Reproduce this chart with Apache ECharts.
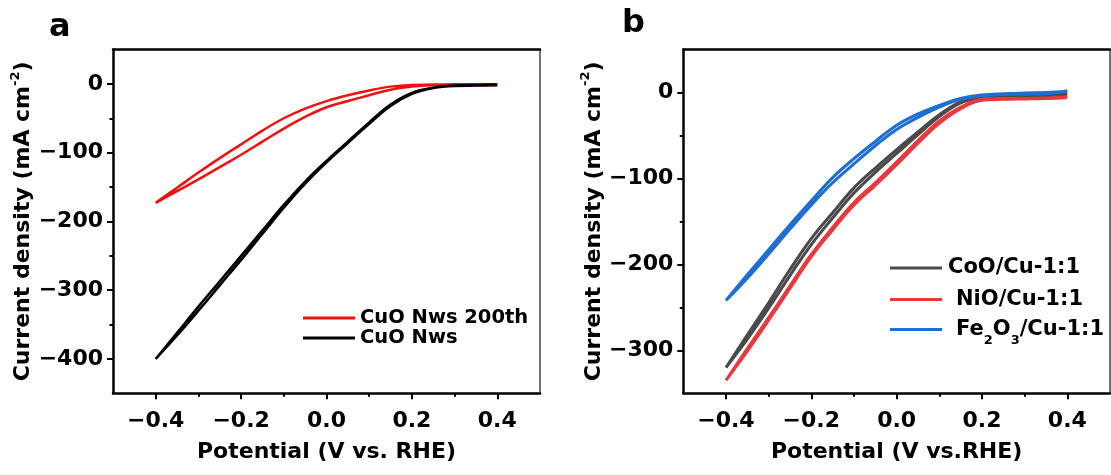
<!DOCTYPE html>
<html>
<head>
<meta charset="utf-8">
<script src="https://cdn.jsdelivr.net/npm/echarts@6/dist/echarts.min.js"></script>
<style>html,body{margin:0;padding:0;background:#fff}#c{width:1111px;height:475px}</style>
</head>
<body>
<div id="c"></div>
<script>
// ---------- Panel a data (potential V vs RHE, current density mA cm-2), one loop per series ----------
const cuo200V = [0.40, 0.35, 0.30, 0.25, 0.20, 0.15, 0.10, 0.05, 0.00, -0.05, -0.10, -0.15, -0.20, -0.25, -0.30, -0.35, -0.40,
                 -0.35, -0.30, -0.25, -0.20, -0.15, -0.10, -0.05, 0.00, 0.05, 0.10, 0.15, 0.20, 0.25, 0.30, 0.35, 0.40];
const cuo200J = [-0.5, -0.5, -0.5, -1, -1.5, -4, -9.5, -16.5, -25, -36, -50, -68, -88, -108, -129, -151, -173,
                 -156, -139, -121, -103, -84, -65, -48, -34, -25, -16.5, -8.5, -4, -2, -1.5, -1.5, -1.5];
const cuoV = [0.40, 0.35, 0.30, 0.25, 0.20, 0.15, 0.10, 0.05, 0.00, -0.05, -0.10, -0.15, -0.20, -0.25, -0.30, -0.35, -0.40,
              -0.35, -0.30, -0.25, -0.20, -0.15, -0.10, -0.05, 0.00, 0.05, 0.10, 0.15, 0.20, 0.25, 0.30, 0.35, 0.40];
const cuoJ = [-1, -1.5, -2.5, -5.5, -13, -30, -56, -84, -112, -142, -176, -213, -250, -287, -324, -362, -400,
              -366, -330, -293, -256, -218, -180, -145, -114, -86, -58, -32, -14.5, -6, -3, -2.5, -2];
// ---------- Panel b data ----------
const cooV = [0.40, 0.35, 0.30, 0.25, 0.20, 0.15, 0.10, 0.05, 0.00, -0.05, -0.10, -0.15, -0.20, -0.25, -0.30, -0.35, -0.40,
              -0.35, -0.30, -0.25, -0.20, -0.15, -0.10, -0.05, 0.00, 0.05, 0.10, 0.15, 0.20, 0.25, 0.30, 0.35, 0.40];
const cooJ = [-2, -3, -3, -3.5, -4.5, -11, -26, -46, -66.5, -88, -111, -140, -170, -206, -244.6, -282, -320,
              -287, -251, -213, -177, -146, -117, -93, -71, -49, -28, -12, -6, -4.5, -4, -4, -3];
const nioV = [0.40, 0.35, 0.30, 0.25, 0.20, 0.15, 0.10, 0.05, 0.00, -0.05, -0.10, -0.15, -0.20, -0.25, -0.30, -0.35, -0.40,
              -0.35, -0.30, -0.25, -0.20, -0.15, -0.10, -0.05, 0.00, 0.05, 0.10, 0.15, 0.20, 0.25, 0.30, 0.35, 0.40];
const nioJ = [-5, -6.5, -7, -7, -8, -17, -33, -56, -81, -105, -128, -157, -188.5, -225, -262, -298, -335,
              -301, -265, -228, -191, -160, -131, -108, -84, -59, -36, -19, -9, -8, -7.5, -7, -6];
const fe2o3V = [0.40, 0.35, 0.30, 0.25, 0.20, 0.15, 0.10, 0.05, 0.00, -0.05, -0.10, -0.15, -0.20, -0.25, -0.30, -0.35, -0.40,
                -0.35, -0.30, -0.25, -0.20, -0.15, -0.10, -0.05, 0.00, 0.05, 0.10, 0.15, 0.20, 0.25, 0.30, 0.35, 0.40];
const fe2o3J = [1, 0, -0.5, -1.5, -3, -7, -15, -25, -38, -57, -77, -99, -126, -154, -183, -212, -242,
                -216, -188, -159, -131, -105, -83, -62, -43, -29, -17, -8, -4, -2.5, -2, -1.5, 2];
// ---------- Axis ticks ----------
const xMajor = [-0.4, -0.2, 0.0, 0.2, 0.4];
const xMinor = [-0.3, -0.1, 0.1, 0.3];
const yMajorA = [-400, -300, -200, -100, 0];
const yMinorA = [-350, -250, -150, -50];
const yMajorB = [-300, -200, -100, 0];
const yMinorB = [-250, -150, -50];

const pairs = (xs, ys) => xs.map((v, i) => [v, ys[i]]);
const FONT = '"DejaVu Sans", "Liberation Sans", Arial, sans-serif';
const minus = s => String(s).replace('-', '\u2212');
const noLine = { show: false, onZero: false };
const tickAxis = (common, vals, len) => Object.assign({}, common, {
  axisLine: noLine, axisLabel: { show: false }, splitLine: { show: false },
  axisTick: { show: true, inside: false, length: len, lineStyle: { width: 2, color: '#000' }, customValues: vals } });

function xAxes(grid, name) {
  const c = { type: 'value', gridIndex: grid, min: -0.5, max: 0.5, position: 'bottom' };
  return [
    Object.assign({}, c, {
      name: name, nameLocation: 'middle', nameGap: 48,
      nameTextStyle: { fontFamily: FONT, fontWeight: 'bold', fontSize: 22, color: '#000' },
      axisLine: { show: true, onZero: false, lineStyle: { color: '#000', width: 2.5 } },
      axisTick: { show: false },
      axisLabel: { show: true, margin: 17, customValues: xMajor, fontFamily: FONT, fontWeight: 'bold', fontSize: 22, color: '#000',
        formatter: v => minus(Number(v).toFixed(1)) },
      splitLine: { show: false } }),
    tickAxis(c, xMajor, 6),
    tickAxis(c, xMinor, 3.5),
    Object.assign({}, c, { position: 'top',
      axisLine: { show: true, onZero: false, lineStyle: { color: '#000', width: 2.5 } },
      axisTick: { show: false }, axisLabel: { show: false }, splitLine: { show: false } })
  ];
}
function yAxes(grid, min, majors, minors, gap) {
  const c = { type: 'value', gridIndex: grid, min: min, max: 50, position: 'left' };
  return [
    Object.assign({}, c, {
      name: '{t|Current density (mA cm}{s|-2}{t|)}', nameLocation: 'middle', nameGap: gap,
      nameTextStyle: { fontFamily: FONT, fontWeight: 'bold', fontSize: 22, color: '#000',
        rich: { t: { fontFamily: FONT, fontWeight: 'bold', fontSize: 22, lineHeight: 30, color: '#000' },
                s: { fontFamily: FONT, fontWeight: 'bold', fontSize: 13, lineHeight: 13, verticalAlign: 'top', color: '#000' } } },
      axisLine: { show: true, onZero: false, lineStyle: { color: '#000', width: 2.5 } },
      axisTick: { show: false },
      axisLabel: { show: true, margin: 10, customValues: majors, fontFamily: FONT, fontWeight: 'bold', fontSize: 22, color: '#000',
        formatter: v => minus(v) },
      splitLine: { show: false } }),
    tickAxis(c, majors, 6),
    tickAxis(c, minors, 3.5),
    Object.assign({}, c, { position: 'right',
      axisLine: { show: true, onZero: false, lineStyle: { color: '#444', width: 1.5 } },
      axisTick: { show: false }, axisLabel: { show: false }, splitLine: { show: false } })
  ];
}
function line(name, data, color, xi, yi, w) {
  return { name, type: 'line', data, xAxisIndex: xi, yAxisIndex: yi, smooth: 0.4, showSymbol: false, symbol: 'none',
    lineStyle: { color, width: w }, itemStyle: { color }, animation: false, z: 3 };
}
function leg(name, left, centerY, size, pad, extra) {
  return Object.assign({ data: [{ name, icon: 'rect' }], left, top: centerY - 12, itemWidth: 52, itemHeight: 3, padding: 0,
    selectedMode: false,
    textStyle: { fontFamily: FONT, fontWeight: 'bold', fontSize: size, color: '#000', lineHeight: 24, padding: [0, 0, 0, pad] } }, extra || {});
}

const chart = echarts.init(document.getElementById('c'), null, { renderer: 'canvas' });
chart.setOption({
  animation: false,
  backgroundColor: '#fff',
  title: [
    { text: 'a', left: 49, top: 12, padding: 0, textStyle: { fontFamily: FONT, fontWeight: 'bold', fontSize: 32, color: '#000' } },
    { text: 'b', left: 622, top: 8, padding: 0, textStyle: { fontFamily: FONT, fontWeight: 'bold', fontSize: 32, color: '#000' } }
  ],
  grid: [
    { left: 113, right: 571, top: 49.5, bottom: 81.7, containLabel: false },
    { left: 683.3, right: 1, top: 49.5, bottom: 81.7, containLabel: false }
  ],
  xAxis: [].concat(xAxes(0, 'Potential (V vs. RHE)'), xAxes(1, 'Potential (V vs.RHE)')),
  yAxis: [].concat(yAxes(0, -450, yMajorA, yMinorA, 68), yAxes(1, -350, yMajorB, yMinorB, 68)),
  legend: [
    leg('CuO Nws 200th', 303, 318, 19.5, 0),
    leg('CuO Nws', 303, 338, 19.5, 0),
    leg('CoO/Cu-1:1', 890, 268, 21, 1),
    leg('NiO/Cu-1:1', 890, 299.5, 21, 9),
    leg('Fe2O3/Cu-1:1', 890, 329.5, 21, 9, { formatter: () => '{t|Fe}{s|2}{t|O}{s|3}{t|/Cu-1:1}',
      textStyle: { fontFamily: FONT, fontWeight: 'bold', fontSize: 21, color: '#000', lineHeight: 24, padding: [0, 0, 0, 9],
        rich: { t: { fontFamily: FONT, fontWeight: 'bold', fontSize: 21, lineHeight: 24, color: '#000' },
                s: { fontFamily: FONT, fontWeight: 'bold', fontSize: 13, lineHeight: 13, verticalAlign: 'bottom', color: '#000', padding: [0, 0, -6, 0] } } } })
  ],
  series: [
    line('CuO Nws 200th', pairs(cuo200V, cuo200J), '#ee1111', 0, 0, 2.5),
    line('CuO Nws', pairs(cuoV, cuoJ), '#000000', 0, 0, 2.5),
    line('CoO/Cu-1:1', pairs(cooV, cooJ), '#4a4a4a', 4, 4, 3),
    line('NiO/Cu-1:1', pairs(nioV, nioJ), '#e8393c', 4, 4, 3),
    line('Fe2O3/Cu-1:1', pairs(fe2o3V, fe2o3J), '#1f6fd2', 4, 4, 3)
  ]
});
</script>
</body>
</html>
